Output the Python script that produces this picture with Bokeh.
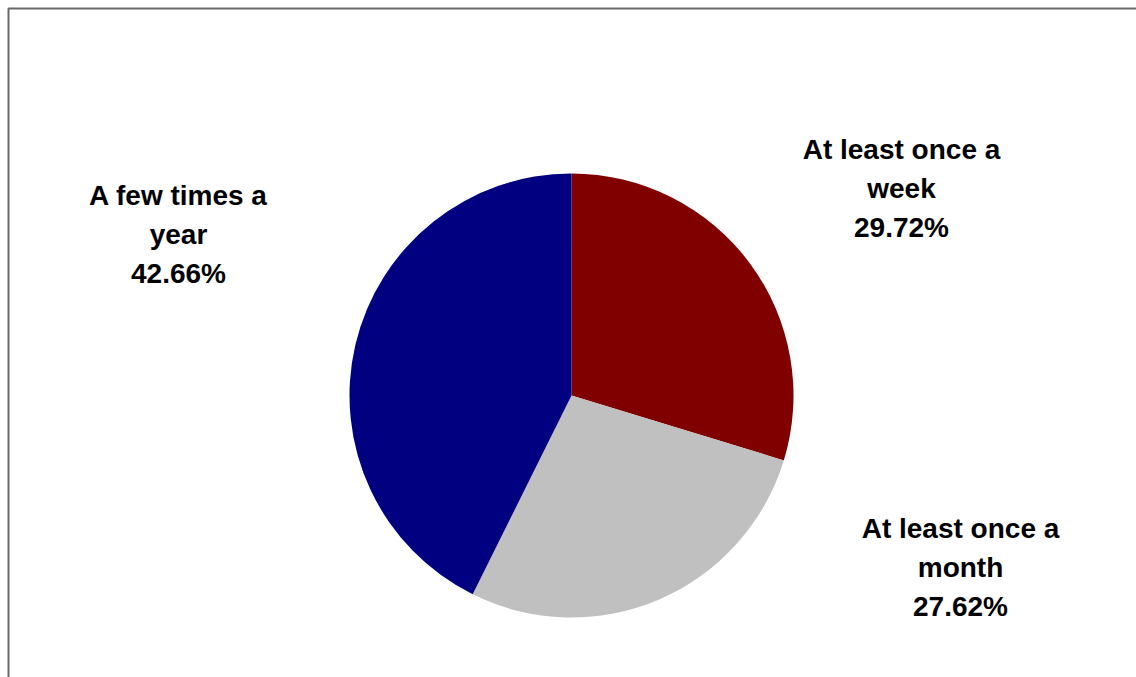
import math
from bokeh.plotting import figure
from bokeh.models import Range1d, BoxAnnotation, ColumnDataSource
from bokeh.core.properties import value
from bokeh.embed import file_html
from bokeh.resources import INLINE

categories = ["At least once a\nweek", "At least once a\nmonth", "A few times a\nyear"]
shares = [29.72, 27.62, 42.66]
pct_labels = ["29.72%", "27.62%", "42.66%"]
colors = ["#800000", "#C0C0C0", "#000080"]

W, H = 1136, 677
cx, cy, r = 571, H - 395, 222
label_xy = [(901, H - 188), (960, H - 567), (178, H - 234)]

total = sum(shares)
starts, ends = [], []
cum = 0.0
for s in shares:
    a0 = math.pi / 2 - 2 * math.pi * cum / total
    cum += s
    a1 = math.pi / 2 - 2 * math.pi * cum / total
    starts.append(a0)
    ends.append(a1)

src = ColumnDataSource(dict(start=starts, end=ends, color=colors))

p = figure(width=W, height=H, output_backend="svg", toolbar_location=None,
           x_range=Range1d(0, W), y_range=Range1d(0, H),
           min_border=0, min_border_left=0, min_border_right=0,
           min_border_top=0, min_border_bottom=0)
p.axis.visible = False
p.grid.visible = False
p.outline_line_color = None
p.background_fill_color = "white"
p.border_fill_color = "white"

p.add_layout(BoxAnnotation(left=8, right=W + 50, top=H - 8, bottom=-50,
                           fill_alpha=0, fill_color=None, line_color="#6a6a6a",
                           line_alpha=1.0, line_width=2))

p.wedge(x=cx, y=cy, radius=r, start_angle="start", end_angle="end",
        direction="clock", color="color", line_color=None, source=src)

texts = [c + "\n" + pl for c, pl in zip(categories, pct_labels)]
lsrc = ColumnDataSource(dict(x=[xy[0] for xy in label_xy],
                             y=[xy[1] for xy in label_xy], text=texts))
p.text(x="x", y="y", text="text", source=lsrc, text_align="center",
       text_baseline="middle", text_font=value("Liberation Sans"),
       text_font_style="bold", text_font_size="28px", text_line_height=1.25,
       text_color="black")

open("out.html", "w").write(file_html(p, INLINE))
